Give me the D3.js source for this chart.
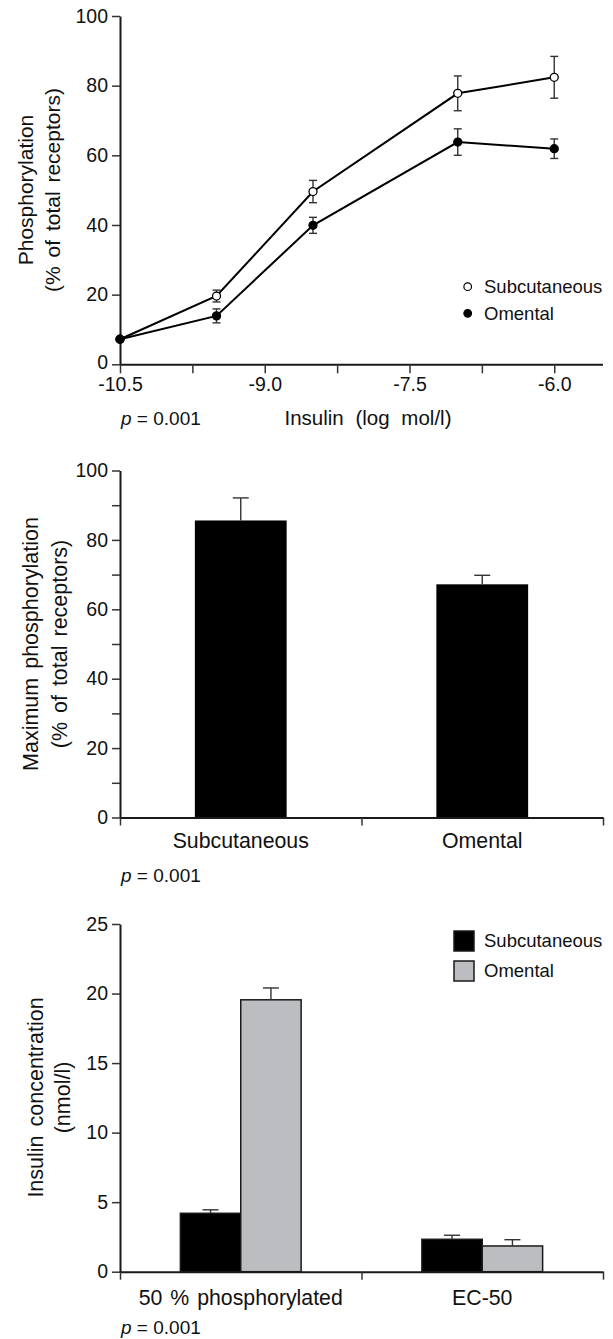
<!DOCTYPE html>
<html>
<head>
<meta charset="utf-8">
<script src="https://cdn.jsdelivr.net/npm/d3@7"></script>
<style>
  body { margin: 0; background: #fff; }
  svg { display: block; }
  text { font-family: "Liberation Sans", Arial, Helvetica, sans-serif; fill: #111; }
  .axis path, .axis line { stroke: #1a1a1a; }
  .axis path { stroke-width: 2; }
  .axis line { stroke-width: 1.5; stroke: #333; }
  .err { stroke: #333; stroke-width: 1.4; fill: none; }
</style>
</head>
<body>
<div class="chart"></div>
<script>
// panel A: dose response
const logDose = [-10.5, -9.5, -8.5, -7.0, -6.0]
const subMean = [7.2, 19.6, 49.6, 77.8, 82.4]
const subSem = [0, 1.7, 3.2, 5.0, 6.0]
const omMean = [7.2, 13.9, 39.9, 63.8, 61.9]
const omSem = [0, 2.0, 2.3, 3.8, 2.8]
const doseTicks = [-10.5, -9.75, -9.0, -8.25, -7.5, -6.75, -6.0]
const doseTickLabels = ["-10.5", "", "-9.0", "", "-7.5", "", "-6.0"]
const pctTicks = [0, 20, 40, 60, 80, 100]

// panel B: maximum phosphorylation
const tissues = ["Subcutaneous", "Omental"]
const maxMean = [85.6, 67.2]
const maxSem = [6.5, 2.6]
const maxTicks = [0, 10, 20, 30, 40, 50, 60, 70, 80, 90, 100]

// panel C: insulin concentration
const measures = ["50 % phosphorylated", "EC-50"]
const concSub = [4.2, 2.33]
const concSubSem = [0.25, 0.29]
const concOm = [19.55, 1.85]
const concOmSem = [0.85, 0.45]
const concTicks = [0, 5, 10, 15, 20, 25]

const W = 613, H = 1339
const svg = d3.select(".chart").append("svg").attr("width", W).attr("height", H)

function yLabel(lines, cx, cy, size) {
  lines.forEach((t, i) => {
    svg.append("text")
      .attr("transform", `translate(${cx[i]},${cy}) rotate(-90)`)
      .attr("text-anchor", "middle")
      .attr("dy", "0.35em")
      .style("font-size", size + "px")
      .style("word-spacing", "3px")
      .text(t)
  })
}

function pLabel(y) {
  const t = svg.append("text").attr("x", 121).attr("y", y).attr("dy", "0.35em")
    .style("font-size", "19px")
  t.append("tspan").style("font-style", "italic").text("p")
  t.append("tspan").text(" = 0.001")
}

const tickFont = g => g.selectAll("text").style("font-size", "19.5px")

// ---------- A ----------
{
  const x = d3.scaleLinear().domain([-10.5, -5.5]).range([120, 602.5])
  const y = d3.scaleLinear().domain([0, 100]).range([364.3, 16])

  svg.append("g").attr("class", "axis").attr("transform", "translate(0,364.3)")
    .call(d3.axisBottom(x).tickValues(doseTicks).tickSizeInner(9).tickSizeOuter(0).tickPadding(4)
      .tickFormat((d, i) => doseTickLabels[i]))
    .call(tickFont)
  svg.append("g").attr("class", "axis").attr("transform", "translate(120,0)")
    .call(d3.axisLeft(y).tickValues(pctTicks).tickSizeInner(8).tickSizeOuter(0).tickPadding(4))
    .call(tickFont)
    .call(g => g.selectAll(".tick text").filter(d => d === 0).attr("dy", "0.2em"))

  const line = d3.line().x(d => x(d[0])).y(d => y(d[1]))
  const series = [
    { mean: subMean, sem: subSem, fill: "#fff" },
    { mean: omMean, sem: omSem, fill: "#000" }
  ]
  series.forEach(s => {
    const pts = logDose.map((d, i) => [d, s.mean[i], s.sem[i]])
    svg.append("path").datum(pts).attr("d", line)
      .attr("fill", "none").attr("stroke", "#000").attr("stroke-width", 2)
    const eb = svg.append("g").selectAll("g").data(pts.filter(p => p[2] > 0)).join("g")
    eb.append("line").attr("class", "err")
      .attr("x1", d => x(d[0])).attr("x2", d => x(d[0]))
      .attr("y1", d => y(d[1] - d[2])).attr("y2", d => y(d[1] + d[2]))
    eb.append("line").attr("class", "err")
      .attr("x1", d => x(d[0]) - 4).attr("x2", d => x(d[0]) + 4)
      .attr("y1", d => y(d[1] + d[2])).attr("y2", d => y(d[1] + d[2]))
    eb.append("line").attr("class", "err")
      .attr("x1", d => x(d[0]) - 4).attr("x2", d => x(d[0]) + 4)
      .attr("y1", d => y(d[1] - d[2])).attr("y2", d => y(d[1] - d[2]))
    svg.append("g").selectAll("circle").data(pts).join("circle")
      .attr("cx", d => x(d[0])).attr("cy", d => y(d[1])).attr("r", 4)
      .attr("fill", s.fill).attr("stroke", "#000").attr("stroke-width", 1.3)
  })

  // legend
  const leg = [["Subcutaneous", "#fff"], ["Omental", "#000"]]
  leg.forEach((l, i) => {
    const ly = 286.7 + i * 26.6
    svg.append("circle").attr("cx", 467.7).attr("cy", ly).attr("r", 3.8)
      .attr("fill", l[1]).attr("stroke", "#000").attr("stroke-width", 1.2)
    svg.append("text").attr("x", 484).attr("y", ly).attr("dy", "0.35em")
      .style("font-size", "18.5px").text(l[0])
  })

  svg.append("text").attr("x", 368).attr("y", 418).attr("dy", "0.35em").attr("text-anchor", "middle")
    .style("font-size", "20.5px").style("word-spacing", "6px")
    .text("Insulin (log mol/l)")
  pLabel(418)
  yLabel(["Phosphorylation", "(% of total receptors)"], [25.5, 53], 190, 21)
}

// ---------- B ----------
{
  const x = d3.scaleBand().domain(tissues).range([120, 603])
  const xb = d3.scaleLinear().domain([0, tissues.length]).range([120, 603])
  const y = d3.scaleLinear().domain([0, 100]).range([817.5, 470.5])
  const bw = x.bandwidth() * 0.38

  svg.append("g").selectAll("rect").data(tissues).join("rect")
    .attr("x", d => x(d) + x.bandwidth() / 2 - bw / 2).attr("width", bw)
    .attr("y", (d, i) => y(maxMean[i])).attr("height", (d, i) => y(0) - y(maxMean[i]))
    .attr("fill", "#000")
  const eb = svg.append("g").selectAll("g").data(tissues).join("g")
  eb.append("line").attr("class", "err")
    .attr("x1", d => x(d) + x.bandwidth() / 2).attr("x2", d => x(d) + x.bandwidth() / 2)
    .attr("y1", (d, i) => y(maxMean[i])).attr("y2", (d, i) => y(maxMean[i] + maxSem[i]))
  eb.append("line").attr("class", "err")
    .attr("x1", d => x(d) + x.bandwidth() / 2 - 8).attr("x2", d => x(d) + x.bandwidth() / 2 + 8)
    .attr("y1", (d, i) => y(maxMean[i] + maxSem[i])).attr("y2", (d, i) => y(maxMean[i] + maxSem[i]))

  svg.append("g").attr("class", "axis").attr("transform", "translate(0,817.5)")
    .call(d3.axisBottom(xb).tickValues([0, 1, 2]).tickSizeInner(8).tickSizeOuter(0).tickFormat(""))
  svg.append("g").attr("class", "axis").attr("transform", "translate(0,817.5)")
    .call(d3.axisBottom(x).tickSize(0).tickPadding(15))
    .call(g => g.select(".domain").remove())
    .call(g => g.selectAll("text").style("font-size", "21.3px"))
  svg.append("g").attr("class", "axis").attr("transform", "translate(120,0)")
    .call(d3.axisLeft(y).tickValues(maxTicks).tickSizeInner(8).tickSizeOuter(0).tickPadding(4)
      .tickFormat(d => d % 20 === 0 ? d : ""))
    .call(tickFont)

  pLabel(875)
  yLabel(["Maximum phosphorylation", "(% of total receptors)"], [30.5, 59], 644, 21.5)
}

// ---------- C ----------
{
  const x0 = d3.scaleBand().domain(measures).range([120, 603])
  const x1 = d3.scaleBand().domain(tissues).range([0, x0.bandwidth()]).paddingOuter(1)
  const xb = d3.scaleLinear().domain([0, measures.length]).range([120, 603])
  const y = d3.scaleLinear().domain([0, 25]).range([1271.7, 924])
  const color = d3.scaleOrdinal().domain(tissues).range(["#000", "#bcbdc0"])

  const rows = []
  measures.forEach((m, i) => {
    rows.push({ m, s: "Subcutaneous", v: concSub[i], e: concSubSem[i] })
    rows.push({ m, s: "Omental", v: concOm[i], e: concOmSem[i] })
  })

  svg.append("g").selectAll("rect").data(rows).join("rect")
    .attr("x", d => x0(d.m) + x1(d.s)).attr("width", x1.bandwidth())
    .attr("y", d => y(d.v)).attr("height", d => y(0) - y(d.v))
    .attr("fill", d => color(d.s)).attr("stroke", "#1a1a1a").attr("stroke-width", 1.5)
  const eb = svg.append("g").selectAll("g").data(rows).join("g")
  const cx = d => x0(d.m) + x1(d.s) + x1.bandwidth() / 2
  eb.append("line").attr("class", "err")
    .attr("x1", cx).attr("x2", cx)
    .attr("y1", d => y(d.v)).attr("y2", d => y(d.v + d.e))
  eb.append("line").attr("class", "err")
    .attr("x1", d => cx(d) - 8).attr("x2", d => cx(d) + 8)
    .attr("y1", d => y(d.v + d.e)).attr("y2", d => y(d.v + d.e))

  svg.append("g").attr("class", "axis").attr("transform", "translate(0,1271.7)")
    .call(d3.axisBottom(xb).tickValues([0, 1, 2]).tickSizeInner(8).tickSizeOuter(0).tickFormat(""))
  svg.append("g").attr("class", "axis").attr("transform", "translate(0,1271.7)")
    .call(d3.axisBottom(x0).tickSize(0).tickPadding(18))
    .call(g => g.select(".domain").remove())
    .call(g => g.selectAll("text").style("font-size", "21.3px").style("word-spacing", "2px"))
  svg.append("g").attr("class", "axis").attr("transform", "translate(120,0)")
    .call(d3.axisLeft(y).tickValues(concTicks).tickSizeInner(8).tickSizeOuter(0).tickPadding(4))
    .call(tickFont)

  tissues.forEach((t, i) => {
    const ly = 941 + i * 30
    svg.append("rect").attr("x", 454).attr("y", ly - 10).attr("width", 20).attr("height", 20)
      .attr("fill", color(t)).attr("stroke", "#1a1a1a").attr("stroke-width", 1.5)
    svg.append("text").attr("x", 484).attr("y", ly).attr("dy", "0.35em")
      .style("font-size", "18.5px").text(t)
  })

  pLabel(1327)
  yLabel(["Insulin concentration", "(nmol/l)"], [35, 62.5], 1097.5, 21.5)
}
</script>
</body>
</html>
